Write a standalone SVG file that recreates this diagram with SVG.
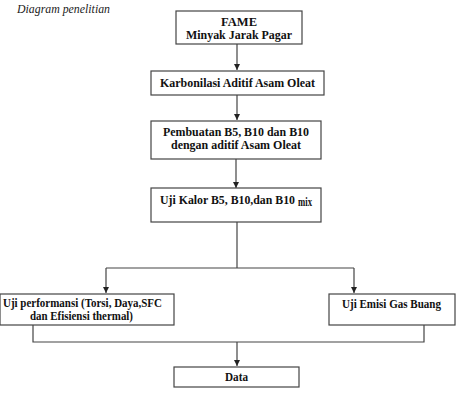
<svg xmlns="http://www.w3.org/2000/svg" width="457" height="407" viewBox="0 0 457 407">
<style>
.box{fill:#fff;stroke:#444;stroke-width:1.2}
.t{font-family:"Liberation Serif","Times New Roman",serif;font-weight:bold;font-size:12px;fill:#111}
.c{fill:none;stroke:#444;stroke-width:1.2}
</style>
<defs>
<marker id="ah" markerWidth="8" markerHeight="8" refX="6" refY="3" orient="auto" markerUnits="userSpaceOnUse">
<path d="M0,0 L6,3 L0,6 Z" fill="#222"/>
</marker>
</defs>
<rect width="457" height="407" fill="#fff"/>
<text x="17" y="13" font-family="Liberation Serif,serif" font-style="italic" font-size="12" fill="#222" textLength="93" lengthAdjust="spacingAndGlyphs">Diagram penelitian</text>
<g id="connectors">
<line class="c" x1="237" y1="44" x2="237" y2="70" marker-end="url(#ah)"/>
<line class="c" x1="237" y1="95" x2="237" y2="120" marker-end="url(#ah)"/>
<line class="c" x1="236" y1="159" x2="236" y2="188" marker-end="url(#ah)"/>
<polyline class="c" points="237,222 237,268"/>
<polyline class="c" points="106,268 354,268"/>
<line class="c" x1="106" y1="268" x2="106" y2="293" marker-end="url(#ah)"/>
<line class="c" x1="354" y1="268" x2="354" y2="293" marker-end="url(#ah)"/>
<polyline class="c" points="33,325 33,342 424,342 424,325"/>
<line class="c" x1="237" y1="342" x2="237" y2="366" marker-end="url(#ah)"/>
</g>
<g id="fame">
<rect class="box" x="176" y="11" width="126" height="33"/>
<text class="t" x="221" y="26" textLength="36" lengthAdjust="spacingAndGlyphs">FAME</text>
<text class="t" x="186" y="39" textLength="106" lengthAdjust="spacingAndGlyphs">Minyak Jarak Pagar</text>
</g>
<g id="karbonilasi">
<rect class="box" x="151" y="71" width="173" height="24"/>
<text class="t" x="160" y="87" textLength="155" lengthAdjust="spacingAndGlyphs">Karbonilasi Aditif Asam Oleat</text>
</g>
<g id="pembuatan">
<rect class="box" x="151" y="121" width="170" height="38"/>
<text class="t" x="163" y="136" textLength="146" lengthAdjust="spacingAndGlyphs">Pembuatan B5, B10 dan B10</text>
<text class="t" x="171" y="149" textLength="130" lengthAdjust="spacingAndGlyphs">dengan aditif Asam Oleat</text>
</g>
<g id="ujikalor">
<rect class="box" x="151" y="188" width="170" height="34"/>
<text class="t" x="160" y="204" textLength="135" lengthAdjust="spacingAndGlyphs">Uji Kalor B5, B10,dan B10</text>
<text class="t" x="298" y="206" font-size="7" textLength="14" lengthAdjust="spacingAndGlyphs">mix</text>
</g>
<g id="performansi">
<rect class="box" x="0" y="294" width="174" height="31"/>
<text class="t" x="3" y="307" font-size="11" textLength="159" lengthAdjust="spacingAndGlyphs">Uji performansi (Torsi, Daya,SFC</text>
<text class="t" x="30" y="320" font-size="11" textLength="103" lengthAdjust="spacingAndGlyphs">dan Efisiensi thermal)</text>
</g>
<g id="emisi">
<rect class="box" x="329" y="294" width="126" height="31"/>
<text class="t" x="342" y="308" textLength="99" lengthAdjust="spacingAndGlyphs">Uji Emisi Gas Buang</text>
</g>
<g id="data">
<rect class="box" x="174" y="367" width="125" height="20"/>
<text class="t" x="225" y="381" textLength="23" lengthAdjust="spacingAndGlyphs">Data</text>
</g>
</svg>
